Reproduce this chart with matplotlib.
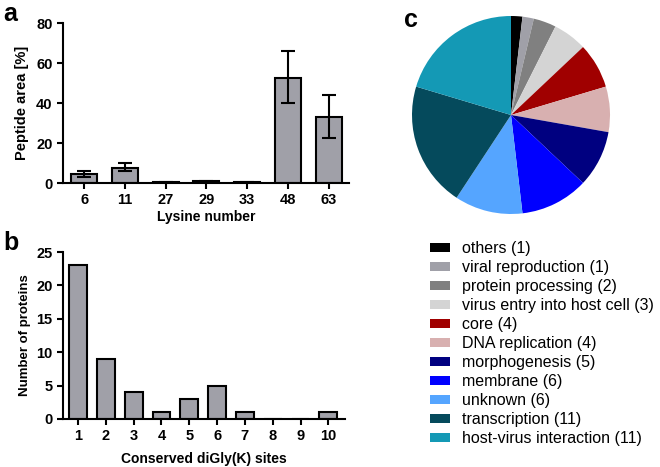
import matplotlib
matplotlib.use("Agg")
import matplotlib.pyplot as plt
from matplotlib.patches import Patch

plt.rcParams["font.family"] = ["Liberation Sans", "DejaVu Sans"]

# panel a: lysine linkage peptide areas
lysines = ["6", "11", "27", "29", "33", "48", "63"]
area_mean = [4.5, 7.5, 0.3, 0.8, 0.3, 52.5, 33.0]
area_low = [3.0, 6.0, 0.1, 0.4, 0.1, 40.0, 22.5]
area_high = [6.0, 10.0, 0.5, 1.2, 0.5, 66.0, 44.0]

# panel b: proteins per number of conserved sites
sites = [1, 2, 3, 4, 5, 6, 7, 8, 9, 10]
n_proteins = [23, 9, 4, 1, 3, 5, 1, 0, 0, 1]

# panel c: functional categories
categories = ["others", "viral reproduction", "protein processing",
              "virus entry into host cell", "core", "DNA replication",
              "morphogenesis", "membrane", "unknown", "transcription",
              "host-virus interaction"]
cat_counts = [1, 1, 2, 3, 4, 4, 5, 6, 6, 11, 11]
cat_colors = ["#000000", "#a0a0a8", "#808080", "#d4d4d4", "#a00000",
              "#d8b0b0", "#000080", "#0000ff", "#55a5ff", "#054a5c",
              "#1499b5"]

bar_color = "#a0a0a8"
narrow = ["Liberation Sans Narrow", "Liberation Sans", "DejaVu Sans"]
W, H = 660, 467
fig = plt.figure(figsize=(6.6, 4.67), dpi=100)


def px_axes(l, t, r, b):
    return fig.add_axes([l / W, 1 - b / H, (r - l) / W, (b - t) / H])


def style(ax):
    for s in ("top", "right"):
        ax.spines[s].set_visible(False)
    for s in ("left", "bottom"):
        ax.spines[s].set_linewidth(1.5)
    ax.tick_params(width=1.5, length=4, labelsize=10.5)
    for lab in ax.get_xticklabels() + ax.get_yticklabels():
        lab.set_fontweight("bold")


# --- a ---
ax_a = px_axes(63, 23, 349, 183)
xa = list(range(len(lysines)))
yerr = [[m - lo for m, lo in zip(area_mean, area_low)],
        [hi - m for m, hi in zip(area_mean, area_high)]]
ax_a.bar(xa, area_mean, width=0.64, color=bar_color, edgecolor="black",
         linewidth=1.5, yerr=yerr, capsize=4.7,
         error_kw=dict(elinewidth=1.5, capthick=1.5))
ax_a.set_xlim(-0.52, 6.5)
ax_a.set_ylim(0, 80)
ax_a.set_yticks([0, 20, 40, 60, 80])
ax_a.set_xticks(xa)
ax_a.set_xticklabels(lysines)
ax_a.tick_params(axis="x", length=0)
style(ax_a)
ax_a.set_xlabel("Lysine number", fontsize=10, fontweight="bold", labelpad=2)
ax_a.set_ylabel("Peptide area [%]", fontsize=10.5, fontweight="bold", family=narrow)
ax_a.yaxis.set_label_coords(-0.12, 0.5)

# --- b ---
ax_b = px_axes(63, 252, 345, 419)
ax_b.bar(sites, n_proteins, width=0.64, color=bar_color, edgecolor="black",
         linewidth=1.5)
ax_b.set_xlim(0.46, 10.6)
ax_b.set_ylim(0, 25)
ax_b.set_yticks([0, 5, 10, 15, 20, 25])
ax_b.set_xticks(sites)
style(ax_b)
ax_b.set_xlabel("Conserved diGly(K) sites", fontsize=10, fontweight="bold", labelpad=6)
ax_b.set_ylabel("Number of proteins", fontsize=9.5, fontweight="bold", family=narrow)
ax_b.yaxis.set_label_coords(-0.115, 0.5)

# --- c ---
ax_c = px_axes(412, 16, 610, 214)
ax_c.pie(cat_counts, colors=cat_colors, startangle=90, counterclock=False,
         wedgeprops=dict(linewidth=0))
ax_c.set_xlim(-1, 1)
ax_c.set_ylim(-1, 1)
ax_c.set_aspect("equal")

handles = [Patch(facecolor=c, edgecolor="none", label=f"{n} ({k})")
           for n, k, c in zip(categories, cat_counts, cat_colors)]
fig.legend(handles=handles, loc="upper left", bbox_to_anchor=(424 / W, 1 - 235 / H),
           frameon=False, fontsize=11.5, handlelength=1.2, handleheight=0.45,
           handletextpad=0.8, labelspacing=0.25, borderaxespad=0)

fig.text(3 / W, 1 - 2 / H, "a", fontsize=18, fontweight="bold", va="top")
fig.text(3 / W, 1 - 231 / H, "b", fontsize=18, fontweight="bold", va="top")
fig.text(404 / W, 1 - 8 / H, "c", fontsize=18, fontweight="bold", va="top")

fig.savefig("out.png", dpi=100)
